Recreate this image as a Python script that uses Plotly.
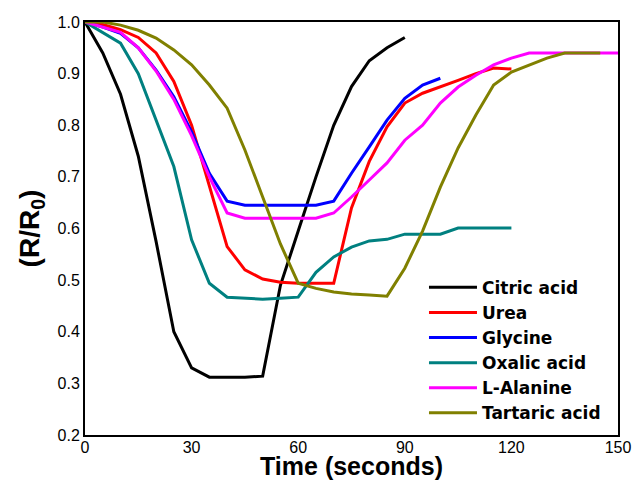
import plotly.graph_objects as go

time = [0, 5, 10, 15, 20, 25, 30, 35, 40, 45, 50, 55, 60, 65, 70, 75, 80, 85, 90, 95,
        100, 105, 110, 115, 120, 125, 130, 135, 140, 145, 150]

citric = [1.0, 0.94, 0.86, 0.74, 0.575, 0.40, 0.33, 0.312, 0.312, 0.312, 0.314, 0.49, 0.595, 0.70, 0.80,
          0.875, 0.925, 0.95, 0.97]
urea = [1.0, 0.995, 0.985, 0.97, 0.94, 0.885, 0.80, 0.68, 0.565, 0.52, 0.502, 0.496, 0.494, 0.494, 0.494,
        0.64, 0.73, 0.797, 0.843, 0.862, 0.874, 0.887, 0.90, 0.911, 0.909]
glycine = [1.0, 0.99, 0.978, 0.95, 0.907, 0.855, 0.787, 0.707, 0.653, 0.645, 0.645, 0.645, 0.645, 0.645,
           0.653, 0.707, 0.758, 0.81, 0.852, 0.878, 0.891]
oxalic = [1.0, 0.98, 0.959, 0.90, 0.81, 0.72, 0.578, 0.494, 0.467, 0.465, 0.463, 0.465, 0.467, 0.515,
          0.545, 0.564, 0.576, 0.579, 0.589, 0.589, 0.589, 0.601, 0.601, 0.601, 0.601]
alanine = [1.0, 0.99, 0.98, 0.95, 0.905, 0.85, 0.78, 0.70, 0.63, 0.62, 0.62, 0.62, 0.62, 0.62, 0.63,
           0.661, 0.694, 0.727, 0.771, 0.80, 0.843, 0.874, 0.897, 0.917, 0.93, 0.94, 0.94, 0.94, 0.94,
           0.94, 0.94]
tartaric = [1.0, 1.0, 0.994, 0.984, 0.969, 0.946, 0.917, 0.878, 0.833, 0.752, 0.661, 0.57, 0.494, 0.484,
            0.477, 0.473, 0.471, 0.469, 0.523, 0.595, 0.68, 0.756, 0.82, 0.878, 0.903, 0.917, 0.93,
            0.94, 0.94, 0.94]

names = ["Citric acid", "Urea", "Glycine", "Oxalic acid", "L-Alanine", "Tartaric acid"]
series = [citric, urea, glycine, oxalic, alanine, tartaric]
colors = ["#000000", "#ff0000", "#0000ff", "#008080", "#ff00ff", "#808000"]

y_ticks = [0.2, 0.3, 0.4, 0.5, 0.6, 0.7, 0.8, 0.9, 1.0]
x_ticks = [0, 30, 60, 90, 120, 150]

fig = go.Figure()
for name, vals, col in zip(names, series, colors):
    fig.add_trace(go.Scatter(x=time[:len(vals)], y=vals, mode="lines", name="<b>" + name + "</b>",
                             line=dict(color=col, width=3)))

fig.update_layout(
    width=632, height=480,
    margin=dict(l=85, r=14, t=22, b=45, autoexpand=False),
    paper_bgcolor="white", plot_bgcolor="white",
    font=dict(family="Arial, Liberation Sans", color="black"),
    showlegend=True,
    legend=dict(x=0.636, y=0.40, xanchor="left", yanchor="top",
                bgcolor="rgba(0,0,0,0)", font=dict(size=17, family="DejaVu Sans"),
                itemwidth=48, tracegroupgap=0),
)
fig.update_xaxes(range=[0, 150], tickvals=x_ticks, showgrid=False, zeroline=False, automargin=False,
                 showline=True, linecolor="black", linewidth=2, mirror=True,
                 ticks="", tickfont=dict(size=16), ticklabelstandoff=-3,
                 title=dict(text="<b>Time (seconds)</b>", font=dict(size=25), standoff=6))
fig.update_yaxes(range=[0.2, 1.0], tickvals=y_ticks, tickformat=".1f", showgrid=False, zeroline=False,
                 automargin=False,
                 showline=True, linecolor="black", linewidth=2, mirror=True,
                 ticks="", tickfont=dict(size=16),
                 title=dict(text="<b>(R/R<sub>0</sub>)</b>", font=dict(size=28), standoff=10))

fig.write_html("out.html", config={"displayModeBar": False},
               post_script="document.body.style.margin='0px';")
